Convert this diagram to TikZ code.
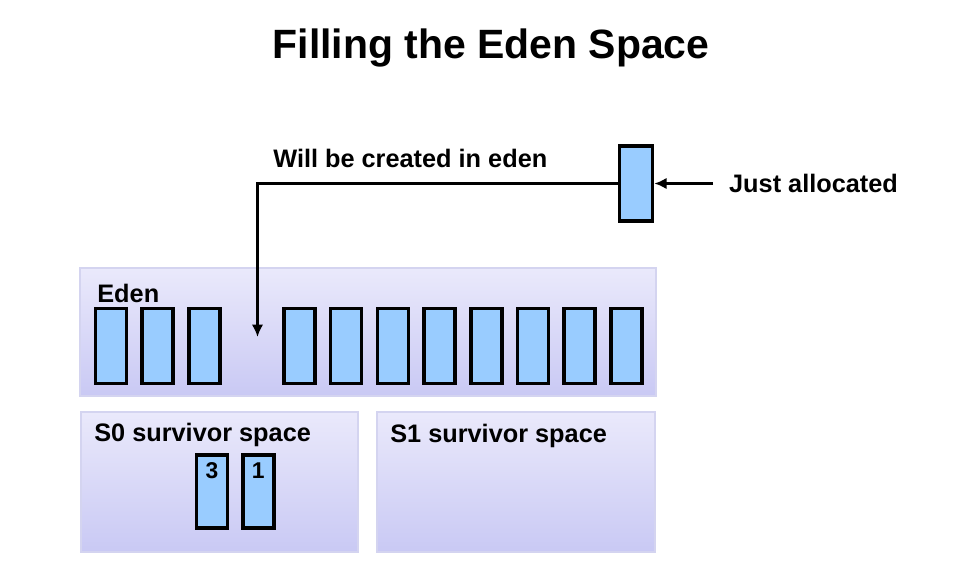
\documentclass[tikz,border=0pt]{standalone}
\usepackage{fontspec}
\setmainfont{Liberation Sans}
\usetikzlibrary{arrows.meta}
\definecolor{objblue}{HTML}{99CCFF}
\definecolor{spacetop}{HTML}{EAE9FB}
\definecolor{spacebot}{HTML}{C9C9F4}
\definecolor{spaceline}{HTML}{D4D4F0}

\tikzset{
  obj/.style={draw=black, line width=2pt, fill=objblue, minimum width=0.62cm, minimum height=1.5cm, inner sep=0pt},
  space/.style={draw=spaceline, line width=1pt, top color=spacetop, bottom color=spacebot, inner sep=0pt},
  lbl/.style={font=\bfseries\fontsize{14.4}{16}\selectfont, inner sep=0pt, anchor=west},
  num/.style={font=\bfseries\fontsize{13}{15}\selectfont, inner sep=0pt, anchor=north},
  arr/.style={line width=1.4pt, -{Latex[length=7pt,width=6.5pt]}},
}

\begin{document}
\begin{tikzpicture}[x=0.02cm, y=-0.02cm]
	\useasboundingbox (0,0) rectangle (970,581);
	\node[font=\bfseries\fontsize{23.3}{26}\selectfont] (title) at (491,48) {Filling the Eden Space};
	% generations
	\node[space, minimum width=11.52cm, minimum height=2.56cm] (eden) at (368,332) {};
	\node[space, minimum width=5.54cm, minimum height=2.8cm] (szero) at (219.5,482) {};
	\node[space, minimum width=5.56cm, minimum height=2.8cm] (sone) at (516,482) {};
	\node[lbl] (edentxt) at (97,293) {Eden};
	\node[lbl] (szerotxt) at (94,435) {S0 survivor space};
	\node[lbl] (sonetxt) at (390,436) {S1 survivor space};
	% objects in eden
	\foreach \x [count=\i] in {111,157.7,204.4,299.5,346.2,392.9,439.6,486.3,533,579.7,626.4}
		\node[obj] (e\i) at (\x,346) {};
	% survivors
	\node[obj, minimum height=1.46cm] (s3) at (212,491.5) {};
	\node[obj, minimum height=1.46cm] (s1) at (258.3,491.5) {};
	\node[num] (n3) at ([yshift=-5pt]s3.north) {3};
	\node[num] (n1) at ([yshift=-5pt]s1.north) {1};
	% new object
	\node[obj, minimum width=0.66cm] (alloc) at (636,183.5) {};
	\node[lbl, inner xsep=9pt] (just) at (713,183.5) {Just allocated};
	\node[lbl] (willtxt) at (273,158) {Will be created in eden};
	\coordinate (drop) at (257.5,337);
	\draw[arr] (just) -- (alloc);
	\draw[arr] (alloc.west) -| (drop);
\end{tikzpicture}
\end{document}
